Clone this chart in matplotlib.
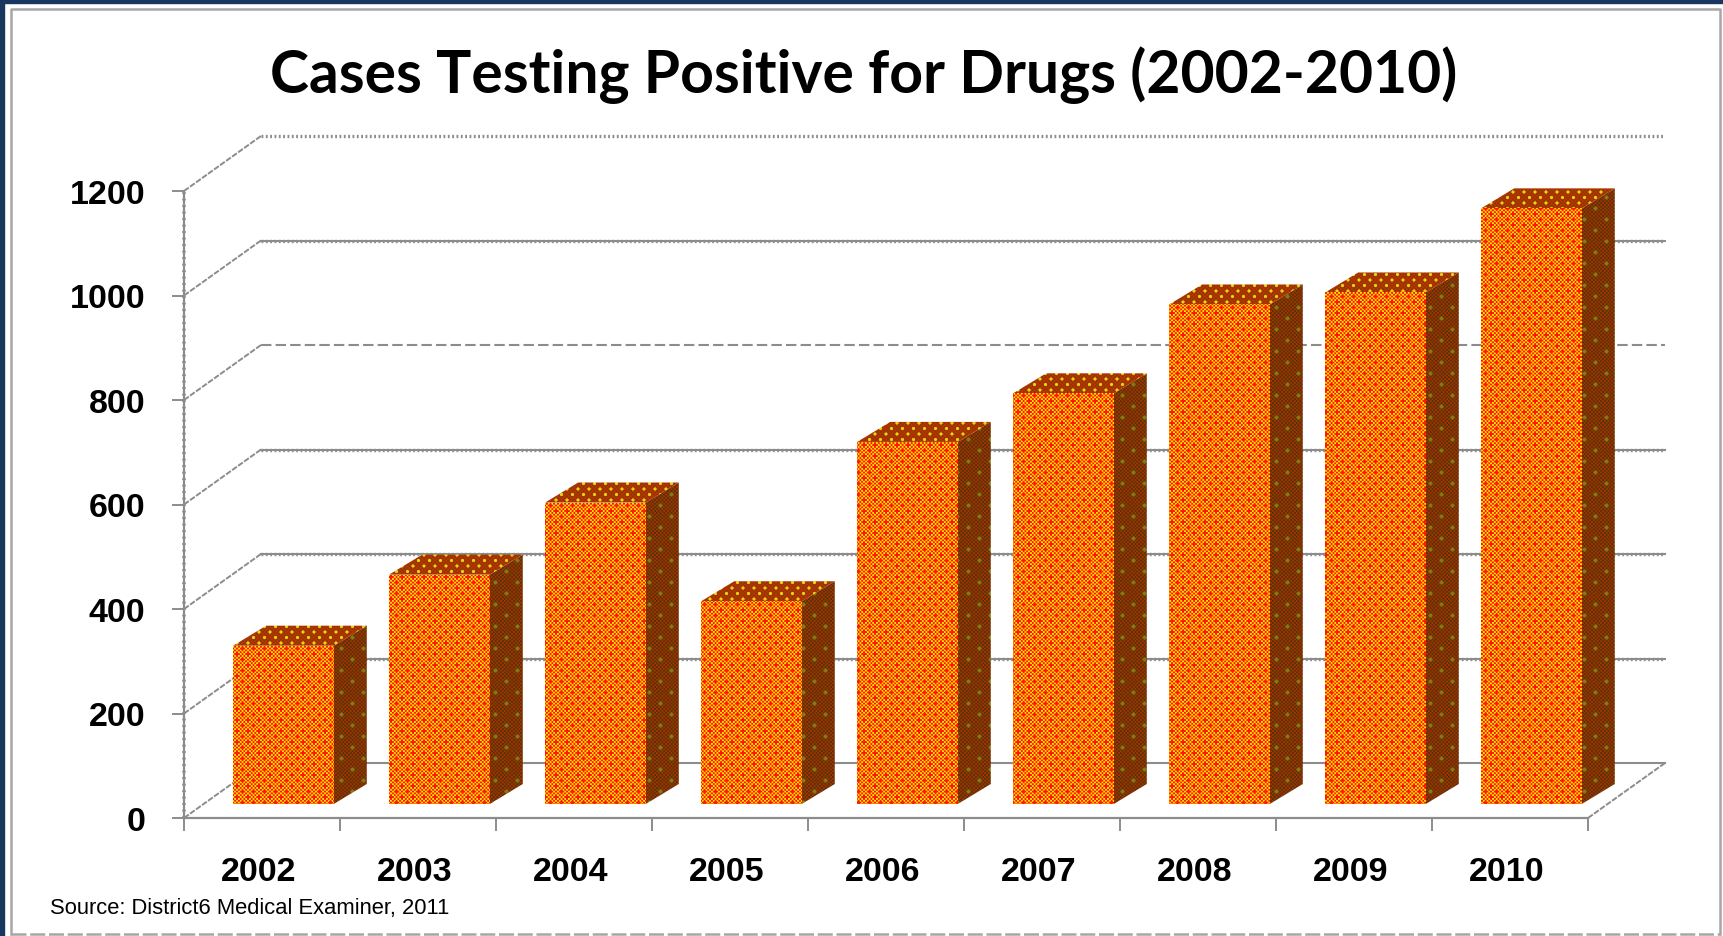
"""Bar chart of drug-positive cases per year, drawn with a pseudo-3D box look."""
import matplotlib

matplotlib.use("Agg")
import matplotlib.pyplot as plt
import numpy as np
from matplotlib.patches import Polygon, Rectangle
from matplotlib.transforms import Affine2D, IdentityTransform, ScaledTranslation

WIDTH, HEIGHT = 1723, 937
GREY = "#8c8c8c"

years = ["2002", "2003", "2004", "2005", "2006", "2007", "2008", "2009", "2010"]
cases = [303, 439, 577, 388, 693, 786, 956, 979, 1140]
y_ticks = [0, 200, 400, 600, 800, 1000, 1200]
wall_styles = ["solid", "solid+dots", "solid+dots", "solid+dots", "dashed", "solid+dots", "dots"]

# pixel offsets of the fake depth: whole floor, bar front plane, bar depth
FLOOR_DX, FLOOR_DY = 77, 55
PLANE_DX, PLANE_DY = 20, 14
BOX_DX, BOX_DY = 33, 20
BAR_LEFT, BAR_W = 0.187, 0.645


def py(row):
    return HEIGHT - row


def mix(a, b, amount):
    return np.array(a) / 255 * (1 - amount) + np.array(b) / 255 * amount


def make_texture(kind):
    """Dithered fill for one box face, one array cell per output pixel."""
    x, y = np.meshgrid(np.arange(WIDTH, dtype=float), np.arange(HEIGHT, dtype=float))
    fine = np.cos(2 * np.pi * x / 3.667) * np.cos(2 * np.pi * y / 3.667)
    fine = np.clip(0.5 + 1.2 * fine, 0, 1)[..., None]
    lattice = np.cos(2 * np.pi * x / 11) * np.cos(2 * np.pi * y / 11)
    dots = np.clip((lattice - 0.45) / 0.35, 0, 1)[..., None]
    sparse = np.cos(2 * np.pi * x / 22) * np.cos(2 * np.pi * y / 22)
    sparse = np.clip((sparse - 0.75) / 0.2, 0, 1)[..., None]
    if kind == "front":
        tex = mix([255, 25, 0], [255, 225, 0], fine)
        tex = tex * (1 - dots) + np.array([255, 25, 0]) / 255 * dots
    elif kind == "top":
        tex = mix([205, 45, 0], [130, 62, 0], fine)
        tex = tex * (1 - dots) + np.array([225, 215, 20]) / 255 * dots
    else:
        tex = mix([165, 50, 0], [85, 52, 8], fine)
        tex = tex * (1 - sparse) + np.array([130, 125, 20]) / 255 * sparse
    return tex


fig = plt.figure(figsize=(WIDTH / 100, HEIGHT / 100), dpi=100, facecolor="white")

# slide frame
pixel = IdentityTransform()
fig.add_artist(Rectangle((0, 0), 4, HEIGHT, color="#17375e", transform=pixel))
fig.add_artist(Rectangle((0, HEIGHT - 4), WIDTH, 4, color="#17375e", transform=pixel))
fig.add_artist(plt.Line2D([11, 11, 1720, 1720], [py(935), py(10), py(10), py(935)],
                          color="#a6a6a6", lw=1.8, transform=pixel))
fig.add_artist(plt.Line2D([11, 1720], [py(935), py(935)], color="#a6a6a6", lw=1.8,
                          ls=(0, (6, 1.5)), transform=pixel))

# axes box sits exactly on the front plane of the floor
left, right, bottom, top = 184, 1588, py(819), py(192)
ax = fig.add_axes([left / WIDTH, bottom / HEIGHT, (right - left) / WIDTH, (top - bottom) / HEIGHT])
ax.set_xlim(0, len(years))
ax.set_ylim(0, 1200)
ax.set_autoscale_on(False)
ax.patch.set_visible(False)
for side in ["top", "right"]:
    ax.spines[side].set_visible(False)
for side in ["left", "bottom"]:
    ax.spines[side].set_color(GREY)
    ax.spines[side].set_linewidth(1.6)

ax.set_yticks(y_ticks)
ax.set_yticklabels([str(v) for v in y_ticks], fontsize=24.5, fontweight="bold",
                   family="Liberation Sans")
ax.tick_params(axis="y", length=9, width=1.4, color=GREY, pad=19)
ax.set_xticks(np.arange(len(years) + 1))
ax.set_xticklabels([])
ax.tick_params(axis="x", which="major", length=9, width=1.4, color=GREY)
ax.set_xticks(np.arange(len(years)) + 0.5, minor=True)
ax.set_xticklabels(years, minor=True, fontsize=24.5, fontweight="bold", family="Liberation Sans")
ax.tick_params(axis="x", which="minor", length=0, pad=27.5)
for label in ax.get_xticklabels(minor=True):
    label.set_transform(label.get_transform() + ScaledTranslation(-2.5 / 72, 0, fig.dpi_scale_trans))

# rough edge on the value axis
ax.plot([0, 0], [0, 1200], color=GREY, lw=2.6, ls=(0, (0.5, 1.3)), clip_on=False, zorder=3)

# back wall lines and the diagonals running back to them
wall = ax.transData + Affine2D().translate(FLOOR_DX, FLOOR_DY)
for value, style in zip(y_ticks, wall_styles):
    xs = [0, len(years)]
    if "solid" in style:
        ax.plot(xs, [value, value], color=GREY, lw=1.5, transform=wall, clip_on=False, zorder=1)
    if "dots" in style:
        ax.plot(xs, [value, value], color=GREY, lw=2.4, ls=(0, (0.55, 0.75)), transform=wall,
                clip_on=False, zorder=1)
    if style == "dashed":
        ax.plot(xs, [value, value], color=GREY, lw=1.5, ls=(0, (5, 2)), transform=wall,
                clip_on=False, zorder=1)
    x0, y0 = ax.transData.transform((0, value))
    ax.plot([x0, x0 + FLOOR_DX], [y0, y0 + FLOOR_DY], color=GREY, lw=1.4, ls=(0, (3, 0.8)),
            transform=pixel, clip_on=False, zorder=1)
x0, y0 = ax.transData.transform((len(years), 0))
ax.plot([x0, x0 + FLOOR_DX], [y0, y0 + FLOOR_DY], color=GREY, lw=1.4, ls=(0, (3, 0.8)),
        transform=pixel, clip_on=False, zorder=1)

# boxes: a textured image per face, clipped to that face
textures = {kind: make_texture(kind) for kind in ["front", "top", "side"]}
plane = ax.transData + Affine2D().translate(PLANE_DX, PLANE_DY)
for i, value in enumerate(cases):
    (xa, ya), (xb, yb) = plane.transform([(i + BAR_LEFT, 0), (i + BAR_LEFT + BAR_W, value)])
    faces = {
        "side": [(xb, ya), (xb + BOX_DX, ya + BOX_DY), (xb + BOX_DX, yb + BOX_DY), (xb, yb)],
        "top": [(xa, yb), (xb, yb), (xb + BOX_DX, yb + BOX_DY), (xa + BOX_DX, yb + BOX_DY)],
        "front": [(xa, ya), (xb, ya), (xb, yb), (xa, yb)],
    }
    for kind, corners in faces.items():
        image = ax.imshow(textures[kind], extent=(0, WIDTH, 0, HEIGHT), transform=pixel,
                          aspect="auto", interpolation="bilinear", zorder=2)
        image.set_clip_box(fig.bbox)
        image.set_clip_path(Polygon(corners, closed=True, transform=pixel))

fig.text(864 / WIDTH, py(75) / HEIGHT, "Cases Testing Positive for Drugs (2002-2010)",
         ha="center", va="center", fontsize=42.3, fontweight="bold", family="Lato", color="black")
fig.text(50 / WIDTH, py(909) / HEIGHT, "Source: District6 Medical Examiner, 2011",
         ha="left", va="center", fontsize=15.8, family="Liberation Sans", color="black")

fig.savefig("out.png", dpi=100)
plt.close(fig)
